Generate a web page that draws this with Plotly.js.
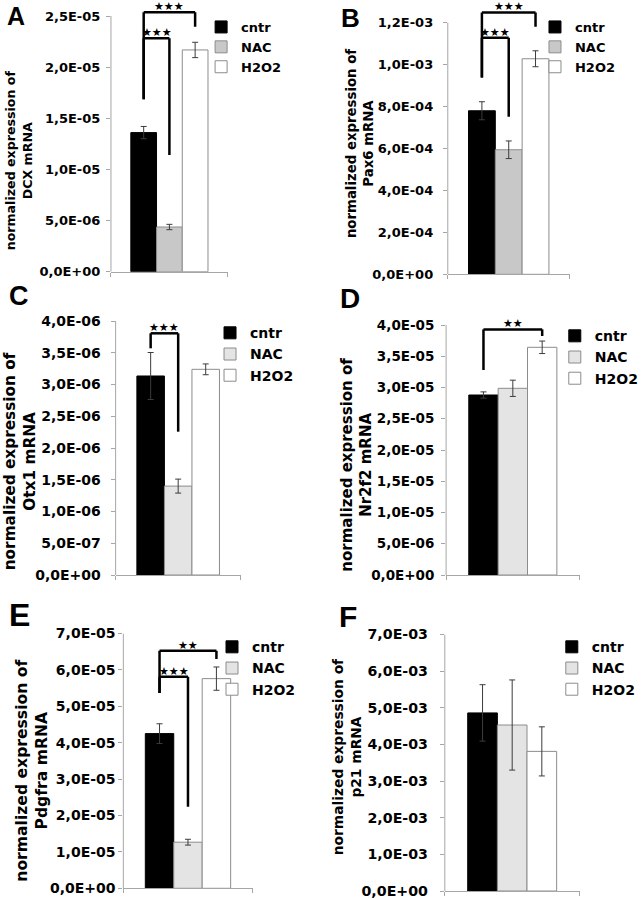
<!DOCTYPE html>
<html><head><meta charset="utf-8">
<script src="https://cdn.plot.ly/plotly-3.0.1.min.js"></script>
<style>html,body{margin:0;padding:0;background:#fff}</style>
</head><body><div id="chart" style="width:644px;height:899px"></div>
<script>
// ---------------- data ----------------
const categories = ['cntr', 'NAC', 'H2O2'];
const genes = ['DCX', 'Pax6', 'Otx1', 'Nr2f2', 'Pdgfra', 'p21'];
const panelLetters = ['A', 'B', 'C', 'D', 'E', 'F'];

const valuesA = [1.36e-5, 4.37e-6, 2.168e-5];
const errorsA = [0.06e-5, 0.26e-6, 0.075e-5];
const valuesB = [7.80e-4, 5.94e-4, 1.028e-3];
const errorsB = [0.43e-4, 0.42e-4, 0.38e-4];
const valuesC = [3.134e-6, 1.40e-6, 3.239e-6];
const errorsC = [0.37e-6, 0.11e-6, 0.085e-6];
const valuesD = [2.88e-5, 2.987e-5, 3.643e-5];
const errorsD = [0.05e-5, 0.13e-5, 0.10e-5];
const valuesE = [4.25e-5, 1.267e-5, 5.76e-5];
const errorsE = [0.27e-5, 0.08e-5, 0.32e-5];
const valuesF = [4.86e-3, 4.53e-3, 3.81e-3];
const errorsF = [0.77e-3, 1.23e-3, 0.67e-3];

const tickValsA = [0, 5e-6, 1e-5, 1.5e-5, 2e-5, 2.5e-5];
const tickTextA = ['0,0E+00', '5,0E-06', '1,0E-05', '1,5E-05', '2,0E-05', '2,5E-05'];
const tickValsB = [0, 2e-4, 4e-4, 6e-4, 8e-4, 1e-3, 1.2e-3];
const tickTextB = ['0,0E+00', '2,0E-04', '4,0E-04', '6,0E-04', '8,0E-04', '1,0E-03', '1,2E-03'];
const tickValsC = [0, 5e-7, 1e-6, 1.5e-6, 2e-6, 2.5e-6, 3e-6, 3.5e-6, 4e-6];
const tickTextC = ['0,0E+00', '5,0E-07', '1,0E-06', '1,5E-06', '2,0E-06', '2,5E-06', '3,0E-06', '3,5E-06', '4,0E-06'];
const tickValsD = [0, 5e-6, 1e-5, 1.5e-5, 2e-5, 2.5e-5, 3e-5, 3.5e-5, 4e-5];
const tickTextD = ['0,0E+00', '5,0E-06', '1,0E-05', '1,5E-05', '2,0E-05', '2,5E-05', '3,0E-05', '3,5E-05', '4,0E-05'];
const tickValsE = [0, 1e-5, 2e-5, 3e-5, 4e-5, 5e-5, 6e-5, 7e-5];
const tickTextE = ['0,0E+00', '1,0E-05', '2,0E-05', '3,0E-05', '4,0E-05', '5,0E-05', '6,0E-05', '7,0E-05'];
const tickValsF = [0, 1e-3, 2e-3, 3e-3, 4e-3, 5e-3, 6e-3, 7e-3];
const tickTextF = ['0,0E+00', '1,0E-03', '2,0E-03', '3,0E-03', '4,0E-03', '5,0E-03', '6,0E-03', '7,0E-03'];

// significance brackets: bar indices, bracket top, left/right leg ends (data units)
const bracketsA = [
  {from: 0, to: 2, top: 2.536e-5, leftEnd: 1.686e-5, rightEnd: 2.395e-5, label: '★★★'},
  {from: 0, to: 1, top: 2.282e-5, leftEnd: 1.686e-5, rightEnd: 1.141e-5, label: '★★★'}
];
const bracketsB = [
  {from: 0, to: 2, top: 1.249e-3, leftEnd: 0.939e-3, rightEnd: 1.181e-3, label: '★★★'},
  {from: 0, to: 1, top: 1.128e-3, leftEnd: 0.939e-3, rightEnd: 0.7516e-3, label: '★★★'}
];
const bracketsC = [
  {from: 0, to: 1, top: 3.806e-6, leftEnd: 3.57e-6, rightEnd: 2.257e-6, label: '★★★'}
];
const bracketsD = [
  {from: 0, to: 2, top: 3.93e-5, leftEnd: 3.28e-5, rightEnd: 3.824e-5, label: '★★'}
];
const bracketsE = [
  {from: 0, to: 2, top: 6.527e-5, leftEnd: 5.365e-5, rightEnd: 6.299e-5, label: '★★'},
  {from: 0, to: 1, top: 5.813e-5, leftEnd: 5.365e-5, rightEnd: 2.242e-5, label: '★★★'}
];
const bracketsF = [];

const panelValues = [valuesA, valuesB, valuesC, valuesD, valuesE, valuesF];
const panelErrors = [errorsA, errorsB, errorsC, errorsD, errorsE, errorsF];
const panelTickVals = [tickValsA, tickValsB, tickValsC, tickValsD, tickValsE, tickValsF];
const panelTickText = [tickTextA, tickTextB, tickTextC, tickTextD, tickTextE, tickTextF];
const panelBrackets = [bracketsA, bracketsB, bracketsC, bracketsD, bracketsE, bracketsF];

// ---------------- styling / geometry ----------------
const W = 644, H = 899;
const FONT = 'DejaVu Sans';
const AXIS_GREY = '#a6a6a6';
const BARGAP = 0.34;
const nacFill = ['#c8c8c8', '#c8c8c8', '#e4e4e4', '#e4e4e4', '#e4e4e4', '#e4e4e4'];
// pixel geometry of each panel (axis left/right, y of zero, y of top tick, range headroom)
const geom = [
  {axL: 112, axR: 230, y0: 271.7, yT: 16, head: 1.04, tickFs: 13, stand: 3, tX: 18.5, tY: 160, tFs: 12.6, lX: 16, lY: 16, lFs: 25, legX: 243, legY: 22, legFs: 13},
  {axL: 452, axR: 575, y0: 274.3, yT: 22.7, head: 1.06, tickFs: 13, stand: 7, tX: 363.5, tY: 144, tFs: 13.3, lX: 353.5, lY: 17.5, lFs: 26, legX: 580, legY: 22, legFs: 13},
  {axL: 116.7, axR: 243, y0: 575, yT: 321, head: 1.0, tickFs: 14, stand: 7, tX: 20.5, tY: 461, tFs: 15.3, lX: 19, lY: 296, lFs: 27, legX: 252, legY: 328, legFs: 14},
  {axL: 450.3, axR: 585, y0: 575, yT: 325, head: 1.0, tickFs: 13.5, stand: 4, tX: 360, tY: 465, tFs: 15, lX: 353.5, lY: 298, lFs: 28, legX: 600, legY: 331, legFs: 14},
  {axL: 124.5, axR: 255, y0: 888.3, yT: 633.5, head: 1.0, tickFs: 14, stand: 6.5, tX: 32, tY: 771, tFs: 15.6, lX: 20, lY: 615, lFs: 32, legX: 254, legY: 642, legFs: 14},
  {axL: 449, axR: 585, y0: 891, yT: 634.5, head: 1.0, tickFs: 14.2, stand: 9, tX: 350.5, tY: 757, tFs: 13.8, lX: 351.5, lY: 616, lFs: 30, legX: 597, legY: 642, legFs: 14}
];

const traces = [];
const shapes = [];
const annotations = [];
const layout = {
  width: W, height: H, autosize: false,
  margin: {l: 0, r: 0, t: 0, b: 0, pad: 0},
  paper_bgcolor: '#ffffff', plot_bgcolor: 'rgba(0,0,0,0)',
  barmode: 'group', bargap: BARGAP, bargroupgap: 0,
  showlegend: true,
  font: {family: FONT, color: '#000'}
};

const barW = (1 - BARGAP) / categories.length;   // in category units
function barCenterDomain(idx) { return 0.5 + (idx - (categories.length - 1) / 2) * barW; }

for (let p = 0; p < 6; p++) {
  const g = geom[p];
  const sfx = p === 0 ? '' : String(p + 1);
  const xId = 'x' + sfx, yId = 'y' + sfx;
  const legId = 'legend' + sfx;
  const tv = panelTickVals[p];
  const topTick = tv[tv.length - 1];
  const rmax = topTick * g.head;
  const pxPerUnit = (g.y0 - g.yT) / topTick;
  const domTopPx = g.y0 - rmax * pxPerUnit;

  const fills = ['#000000', nacFill[p], '#ffffff'];
  const lines = ['#000000', '#8c8c8c', '#8c8c8c'];
  categories.forEach((c, j) => {
    traces.push({
      type: 'bar', name: c, x: [genes[p]], y: [panelValues[p][j]],
      xaxis: xId, yaxis: yId, legend: legId, showlegend: true,
      marker: {color: fills[j], line: {color: lines[j], width: 1}},
      error_y: {type: 'data', array: [panelErrors[p][j]], visible: true, color: '#3c3c3c', thickness: 1, width: 3},
      hoverinfo: 'skip'
    });
  });

  layout['xaxis' + sfx] = {
    domain: [g.axL / W, g.axR / W], anchor: yId, type: 'category',
    range: [-0.5, 0.5], showline: true, linecolor: AXIS_GREY, linewidth: 1,
    showgrid: false, zeroline: false, showticklabels: false,
    tickmode: 'array', tickvals: [-0.5, 0.5], ticks: 'outside', ticklen: 4, tickcolor: AXIS_GREY, fixedrange: true
  };
  layout['yaxis' + sfx] = {
    domain: [1 - g.y0 / H, 1 - domTopPx / H], anchor: xId,
    range: [0, rmax], showline: false, showgrid: false, zeroline: false,
    tickmode: 'array', tickvals: tv, ticktext: panelTickText[p],
    ticks: 'outside', ticklen: 4, tickcolor: AXIS_GREY, tickwidth: 1,
    ticklabelstandoff: g.stand, ticklabeloverflow: 'allow',
    tickfont: {family: FONT, size: g.tickFs, color: '#000', weight: 'bold'}, fixedrange: true
  };
  // y axis line up to the top tick
  shapes.push({type: 'line', xref: xId + ' domain', yref: yId, x0: 0, x1: 0, y0: 0, y1: topTick,
    line: {color: AXIS_GREY, width: 1}});

  layout[legId] = {
    x: (g.legX - 40) / W, y: 1 - (g.legY - g.legFs * 0.77) / H, xanchor: 'left', yanchor: 'top',
    bgcolor: 'rgba(0,0,0,0)', borderwidth: 0, traceorder: 'normal',
    font: {family: FONT, size: g.legFs, color: '#000', weight: 'bold'}
  };

  // brackets
  panelBrackets[p].forEach(b => {
    const xa = barCenterDomain(b.from), xb = barCenterDomain(b.to);
    const ln = {color: '#000', width: 2.5};
    shapes.push({type: 'line', xref: xId + ' domain', yref: yId, x0: xa, x1: xa, y0: b.leftEnd, y1: b.top, line: ln});
    shapes.push({type: 'line', xref: xId + ' domain', yref: yId, x0: xa, x1: xb, y0: b.top, y1: b.top, line: ln});
    shapes.push({type: 'line', xref: xId + ' domain', yref: yId, x0: xb, x1: xb, y0: b.top, y1: b.rightEnd, line: ln});
    annotations.push({xref: xId + ' domain', yref: yId, x: (xa + xb) / 2, y: b.top, text: b.label,
      showarrow: false, xanchor: 'center', yanchor: 'bottom', yshift: -3,
      font: {family: FONT, size: 11, color: '#000'}});
  });

  // y-axis title
  annotations.push({xref: 'paper', yref: 'paper', x: g.tX / W, y: 1 - g.tY / H,
    text: 'normalized expression of<br>' + genes[p] + ' mRNA', textangle: -90,
    showarrow: false, xanchor: 'center', yanchor: 'middle',
    font: {family: FONT, size: g.tFs, color: '#000', weight: 'bold'}});
  // panel letter
  annotations.push({xref: 'paper', yref: 'paper', x: g.lX / W, y: 1 - g.lY / H,
    text: panelLetters[p], showarrow: false, xanchor: 'center', yanchor: 'middle',
    font: {family: 'Liberation Sans', size: g.lFs, color: '#000', weight: 'bold'}});
}
layout.shapes = shapes;
layout.annotations = annotations;

Plotly.newPlot('chart', traces, layout, {staticPlot: true, displayModeBar: false});
</script>
</body></html>
